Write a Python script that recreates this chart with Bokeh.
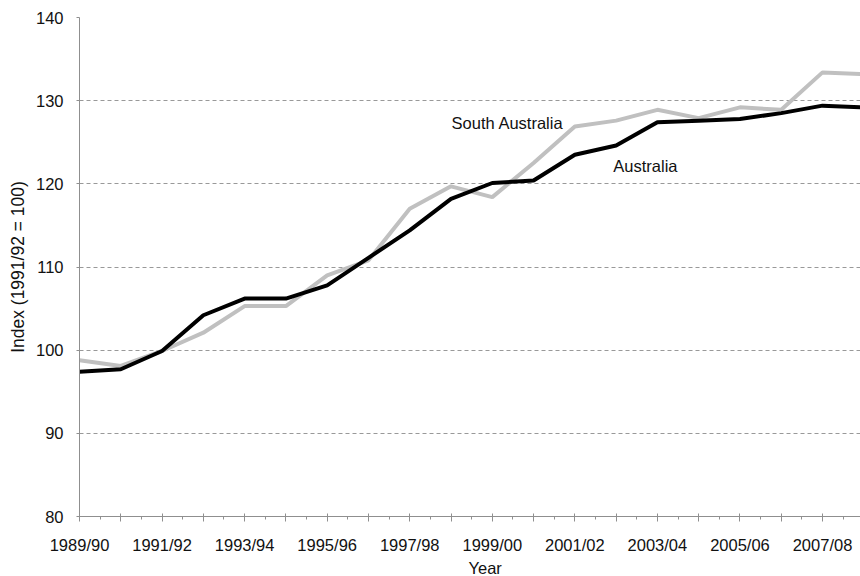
from bokeh.plotting import figure
from bokeh.models import Range1d, FixedTicker, Label, ColumnDataSource, Title
from bokeh.embed import file_html
from bokeh.resources import INLINE

years = ["1989/90", "1990/91", "1991/92", "1992/93", "1993/94", "1994/95",
         "1995/96", "1996/97", "1997/98", "1998/99", "1999/00", "2000/01",
         "2001/02", "2002/03", "2003/04", "2004/05", "2005/06", "2006/07",
         "2007/08", "2008/09"]
australia = [97.4, 97.7, 99.9, 104.2, 106.2, 106.2, 107.8, 111.1, 114.4, 118.2,
             120.1, 120.4, 123.5, 124.6, 127.4, 127.6, 127.8, 128.5, 129.4, 129.2]
south_australia = [98.8, 98.1, 99.9, 102.1, 105.3, 105.3, 109.0, 110.8, 117.0, 119.7,
                   118.4, 122.5, 126.9, 127.6, 128.9, 127.9, 129.2, 128.9, 133.4, 133.2]
y_ticks = [80, 90, 100, 110, 120, 130, 140]

idx = list(range(len(years)))
src = ColumnDataSource(dict(x=idx, aus=australia, sa=south_australia))

FONT = "Liberation Sans"
GREY = "#8f8f8f"

p = figure(width=860, height=576, output_backend="svg", toolbar_location=None,
           x_range=Range1d(0, 18.92), y_range=Range1d(80, 140),
           min_border_left=79, min_border_right=0, min_border_top=17,
           min_border_bottom=59)
p.outline_line_color = None
p.background_fill_color = "white"

p.line("x", "sa", source=src, line_color="#c0c0c0", line_width=4)
p.line("x", "aus", source=src, line_color="#000000", line_width=4)

# x axis
p.xaxis.ticker = FixedTicker(ticks=idx, minor_ticks=[i + 0.5 for i in idx])
p.xaxis.major_label_overrides = {i: (years[i] if i % 2 == 0 else "") for i in idx}
p.xaxis.axis_line_color = GREY
p.xaxis.major_tick_line_color = GREY
p.xaxis.minor_tick_line_color = GREY
p.xaxis.major_tick_in = 3
p.xaxis.major_tick_out = 5
p.xaxis.minor_tick_in = 0
p.xaxis.minor_tick_out = 3
p.xaxis.major_label_standoff = 14
p.xaxis.major_label_text_font = FONT
p.xaxis.major_label_text_font_size = "16.5px"
p.xaxis.major_label_text_color = "#111111"

# y axis
p.yaxis.ticker = FixedTicker(ticks=y_ticks, minor_ticks=[])
p.yaxis.axis_line_color = GREY
p.yaxis.major_tick_line_color = GREY
p.yaxis.minor_tick_line_color = None
p.yaxis.major_tick_in = 0
p.yaxis.major_tick_out = 3
p.yaxis.major_label_standoff = 13
p.yaxis.major_label_text_font = FONT
p.yaxis.major_label_text_font_size = "16.5px"
p.yaxis.major_label_text_color = "#111111"
p.yaxis.axis_label = "Index (1991/92 = 100)"
p.yaxis.axis_label_text_font = FONT
p.yaxis.axis_label_text_font_size = "17.5px"
p.yaxis.axis_label_text_font_style = "normal"
p.yaxis.axis_label_text_color = "#111111"
p.yaxis.axis_label_standoff = 5

p.xgrid.visible = False
p.ygrid.grid_line_color = "#999999"
p.ygrid.grid_line_dash = "4 3"
p.ygrid.grid_line_width = 1

# x-axis title ("Year"), placed as a below-panel title so it can be offset
p.add_layout(Title(text="Year", align="left", offset=389, standoff=0,
                   text_font=FONT, text_font_size="16.5px",
                   text_font_style="normal", text_color="#111111"), "below")

p.add_layout(Label(x=10.37, y=127.3, text="South Australia", text_align="center",
                   text_baseline="middle", text_font=FONT,
                   text_font_size="16.5px", text_color="#111111"))
p.add_layout(Label(x=13.71, y=122.2, text="Australia", text_align="center",
                   text_baseline="middle", text_font=FONT,
                   text_font_size="16.5px", text_color="#111111"))

open("out.html", "w").write(file_html(p, INLINE))
